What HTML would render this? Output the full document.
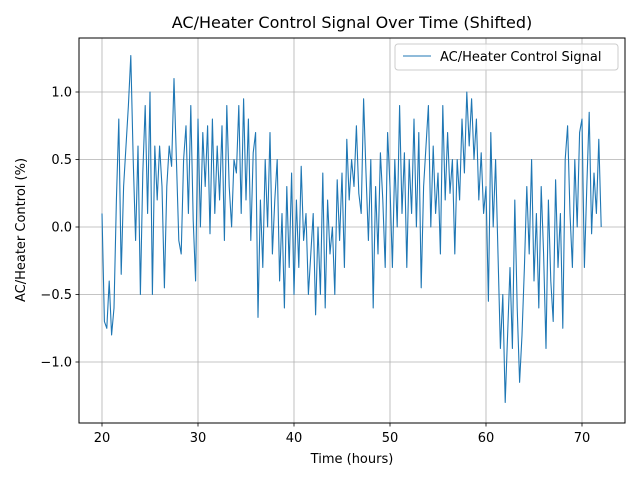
<!DOCTYPE html>
<html><head><meta charset="utf-8"><style>
body{margin:0;background:#fff;}
svg text{font-family:"DejaVu Sans","Liberation Sans",sans-serif;}
</style></head><body>
<svg id="chart" width="640" height="480" xmlns="http://www.w3.org/2000/svg">
<rect width="640" height="480" fill="#fff"/>
<g id="grid"></g>
<path id="line" fill="none" stroke="#1f77b4" stroke-width="1.1" stroke-linejoin="round"/>
<rect x="79" y="38" width="546" height="385" fill="none" stroke="#000" stroke-width="1"/>
<g id="ticks"></g>
<text x="352" y="28" font-size="16" text-anchor="middle">AC/Heater Control Signal Over Time (Shifted)</text>
<text x="352" y="463" font-size="13" text-anchor="middle">Time (hours)</text>
<text transform="translate(25,230) rotate(-90)" font-size="13" text-anchor="middle">AC/Heater Control (%)</text>
<g>
<rect x="395" y="44" width="223" height="26" rx="3" fill="#fff" fill-opacity="0.8" stroke="#ccc"/>
<line x1="403" y1="56" x2="431" y2="56" stroke="#1f77b4" stroke-width="1"/>
<text x="440" y="61" font-size="13">AC/Heater Control Signal</text>
</g>
</svg>
<script>
const xStart = 20;
const xStep = 0.25;
const values = [
0.1,-0.7,-0.75,-0.4,
-0.8,-0.6,0.2,0.8,
-0.35,0.3,0.6,0.9,
1.27,0.5,-0.1,0.6,
-0.5,0.4,0.9,0.1,
1.0,-0.5,0.6,0.2,
0.6,0.3,-0.45,0.3,
0.6,0.45,1.1,0.5,
-0.1,-0.2,0.5,0.75,
0.1,0.9,0.05,-0.4,
0.8,0.0,0.7,0.3,
0.75,-0.05,0.8,0.1,
0.6,0.2,0.75,-0.1,
0.9,0.3,0.0,0.5,
0.4,0.9,0.1,0.95,
0.2,0.8,-0.1,0.55,
0.7,-0.67,0.2,-0.3,
0.5,0.0,0.7,-0.2,
0.2,0.5,-0.4,0.1,
-0.6,0.3,-0.3,0.4,
-0.5,0.2,-0.3,0.45,
-0.1,0.1,-0.5,-0.2,
0.1,-0.65,0.0,-0.5,
0.4,-0.6,0.2,-0.2,
0.0,-0.5,0.35,-0.1,
0.4,-0.3,0.65,0.2,
0.5,0.3,0.75,0.25,
0.1,0.95,0.4,-0.1,
0.5,-0.6,0.3,-0.2,
0.55,0.2,-0.3,0.7,
0.3,-0.3,0.5,0.0,
0.9,0.1,0.55,-0.3,
0.5,0.1,0.8,0.0,
0.7,-0.45,0.3,0.6,
0.9,0.0,0.6,0.1,
0.4,-0.2,0.9,0.2,
0.7,0.25,0.5,-0.2,
0.5,0.2,0.8,0.4,
1.0,0.6,0.95,0.5,
0.8,0.2,0.55,0.1,
0.3,-0.55,0.7,0.0,
0.5,-0.2,-0.9,-0.5,
-1.3,-0.8,-0.3,-0.9,
0.2,-0.6,-1.15,-0.8,
-0.3,0.3,-0.2,0.5,
-0.4,0.1,-0.6,0.3,
-0.2,-0.9,0.2,-0.4,
-0.7,0.35,-0.3,0.1,
-0.75,0.5,0.75,0.1,
-0.3,0.5,0.0,0.7,
0.8,-0.3,0.3,0.85,
-0.05,0.4,0.1,0.65,
0.0];
const xTicks = [20,30,40,50,60,70];
const yTicks = [-1.0,-0.5,0.0,0.5,1.0];
const yTickLabels = ["\u22121.0","\u22120.5","0.0","0.5","1.0"];

function xs(v){return 102 + (v-20)*9.6;}
function ys(v){return 227 - v*135;}
const ns="http://www.w3.org/2000/svg";
const grid=document.getElementById('grid'), ticks=document.getElementById('ticks');
function mk(tag,attrs,parent){const e=document.createElementNS(ns,tag);for(const k in attrs)e.setAttribute(k,attrs[k]);parent.appendChild(e);return e;}
xTicks.forEach(t=>{
  const x=xs(t);
  const g=mk('line',{x1:x,x2:x,y1:38,y2:423,stroke:'#b0b0b0','stroke-width':0.8},grid);
  
  
  mk('line',{x1:x,x2:x,y1:423,y2:426.5,stroke:'#000','stroke-width':0.8},ticks);
  const tx=mk('text',{x:x,y:442,'font-size':13,'text-anchor':'middle'},ticks);
  tx.textContent=t;
  
  
});
yTicks.forEach((t,i)=>{
  const y=ys(t);
  const g=mk('line',{x1:79,x2:625,y1:y,y2:y,stroke:'#b0b0b0','stroke-width':0.8},grid);
  
  
  mk('line',{x1:75.5,x2:79,y1:y,y2:y,stroke:'#000','stroke-width':0.8},ticks);
  const tx=mk('text',{x:72,y:y+4.5,'font-size':13,'text-anchor':'end'},ticks);
  tx.textContent=yTickLabels[i];
  
  
});
let d='';
values.forEach((v,i)=>{d+=(i?'L':'M')+xs(xStart+i*xStep).toFixed(1)+','+ys(v).toFixed(1);});
document.getElementById('line').setAttribute('d',d);
</script>
</body></html>
